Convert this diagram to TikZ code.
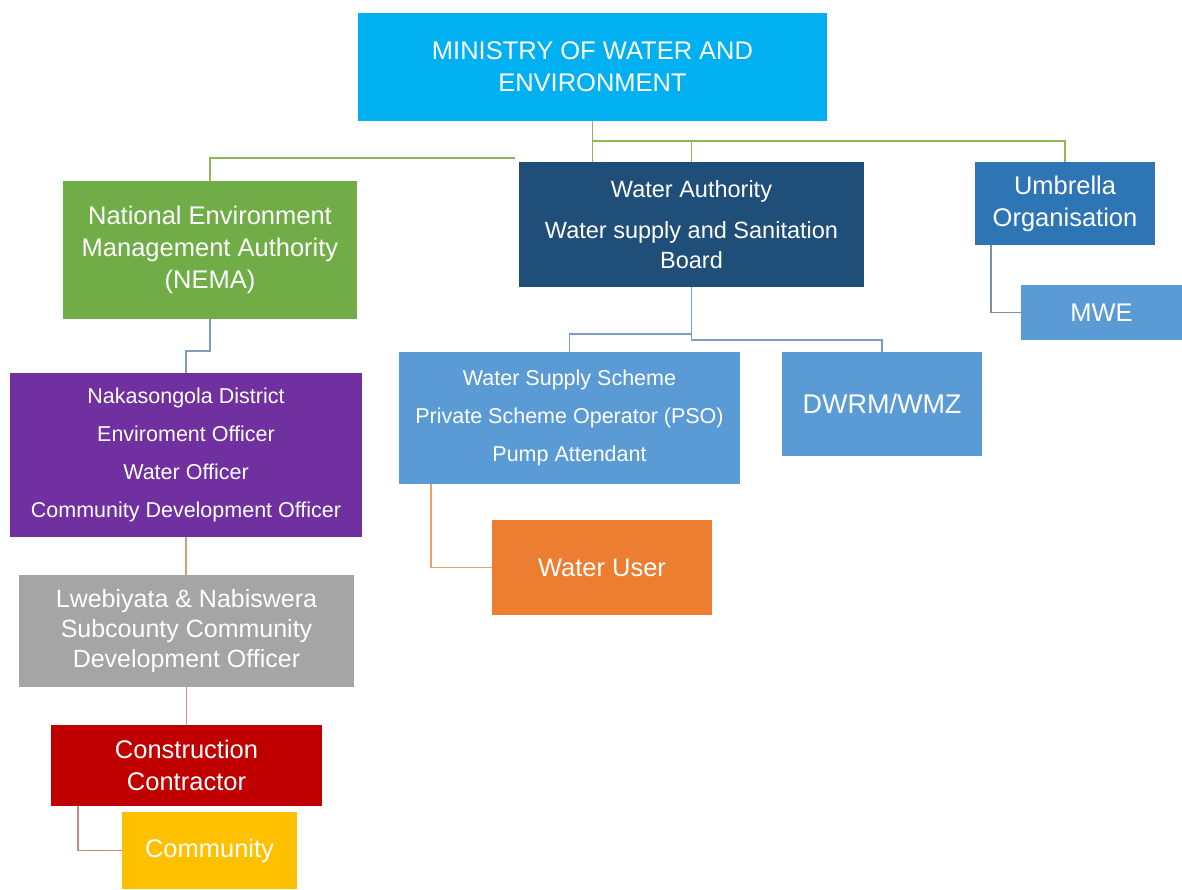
\documentclass[tikz,border=0pt]{standalone}
\usepackage{fontspec}
\setmainfont{Liberation Sans}
\usepackage{xcolor}
\usepackage{tikz}

\definecolor{minblue}{HTML}{00B0F0}
\definecolor{nemagreen}{HTML}{70AD47}
\definecolor{authblue}{HTML}{1F4E79}
\definecolor{umbblue}{HTML}{2E75B6}
\definecolor{lightblue}{HTML}{5B9BD5}
\definecolor{distpurple}{HTML}{7030A0}
\definecolor{subgray}{HTML}{A5A5A5}
\definecolor{contrred}{HTML}{C00000}
\definecolor{commgold}{HTML}{FFC000}
\definecolor{userorange}{HTML}{ED7D31}

\begin{document}
\begin{tikzpicture}[x=1pt,y=-1pt,
  box/.style={inner sep=0pt,text=white,align=center,
    font=\fontsize{25.5}{32}\selectfont},
  smallbox/.style={box,font=\fontsize{21.5}{38}\selectfont},
  lnk/.style={line width=1.8pt}]
  \useasboundingbox (0,0) rectangle (1182,889);

  % top level
  \node[box,fill=minblue,minimum width=469pt,minimum height=108pt] (ministry)
    at (592.5,67) {MINISTRY OF WATER AND\\ENVIRONMENT};

  % second row
  \node[box,fill=nemagreen,minimum width=294pt,minimum height=138pt] (nema)
    at (210,250) {National Environment\\Management Authority\\(NEMA)};
  \node[box,fill=authblue,minimum width=345pt,minimum height=125pt,
    font=\fontsize{23.5}{30}\selectfont] (wauth)
    at (691.5,224.5) {Water Authority\\[11pt]Water supply and Sanitation\\Board};
  \node[box,fill=umbblue,minimum width=180pt,minimum height=83pt] (umbrella)
    at (1065,203.5) {Umbrella\\Organisation};
  \node[box,fill=lightblue,minimum width=161pt,minimum height=55pt] (mwe)
    at (1101.5,312.5) {MWE};

  % water authority branch
  \node[smallbox,fill=lightblue,minimum width=341pt,minimum height=132pt] (wss)
    at (569.5,418) {Water Supply Scheme\\Private Scheme Operator (PSO)\\Pump Attendant};
  \node[box,fill=lightblue,minimum width=200pt,minimum height=104pt,
    font=\fontsize{27}{32}\selectfont] (dwrm)
    at (882,404) {DWRM/WMZ};
  \node[box,fill=userorange,minimum width=220pt,minimum height=95pt] (wuser)
    at (602,567.5) {Water User};

  % NEMA branch
  \node[smallbox,fill=distpurple,minimum width=352pt,minimum height=164pt] (naka)
    at (186,455) {Nakasongola District\\Enviroment Officer\\Water Officer\\Community Development Officer};
  \node[box,fill=subgray,minimum width=335pt,minimum height=112pt,
    font=\fontsize{25}{30}\selectfont] (lweb)
    at (186.5,631) {Lwebiyata \& Nabiswera\\Subcounty Community\\Development Officer};
  \node[box,fill=contrred,minimum width=271pt,minimum height=81pt] (contr)
    at (186.5,765.5) {Construction\\Contractor};
  \node[box,fill=commgold,minimum width=175pt,minimum height=77pt] (comm)
    at (209.5,850.5) {Community};

  % connectors
  \coordinate (nemajoin) at (515,158);
  \draw[lnk,color={rgb,255:red,146;green,181;blue,90}]
    (ministry.south) -- (ministry.south |- wauth.north)
    (ministry.south) ++(0,20) -| (umbrella.north)
    (ministry.south) ++(0,20) -| (wauth.north)
    (nemajoin) -| (nema.north);
  \draw[lnk,color={rgb,255:red,126;green,156;blue,201}]
    (wauth.south) -- ++(0,47) -| (wss.north)
    (wauth.south) -- ++(0,53) -| (dwrm.north);
  \draw[lnk,color={rgb,255:red,127;green,143;blue,166}]
    (umbrella.south west) ++(16,0) |- (mwe.west);
  \draw[lnk,color={rgb,255:red,127;green,157;blue,185}]
    (nema.south) -- ++(0,32) -| (naka.north);
  \draw[lnk,color={rgb,255:red,201;green,160;blue,122}]
    (naka.south) -- (naka.south |- lweb.north);
  \draw[lnk,color={rgb,255:red,212;green,146;blue,138}]
    (lweb.south) -- (lweb.south |- contr.north);
  \draw[lnk,color={rgb,255:red,201;green,139;blue,122}]
    (contr.south west) ++(27,0) |- (comm.west);
  \draw[lnk,color={rgb,255:red,238;green,159;blue,106}]
    (wss.south west) ++(32,0) |- (wuser.west);
\end{tikzpicture}
\end{document}
